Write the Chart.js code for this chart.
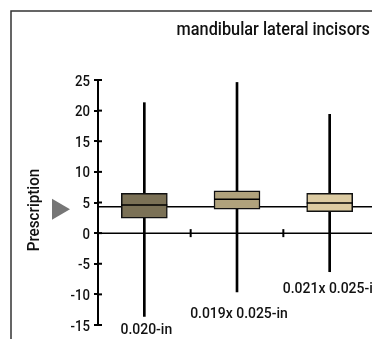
<!DOCTYPE html>
<html><head><meta charset="utf-8">
<script src="https://cdn.jsdelivr.net/npm/chart.js"></script>
<style>html,body{margin:0;padding:0;background:#fff;overflow:hidden;width:372px;height:339px}
#wrap{position:absolute;left:0;top:0;width:376px;height:339px}</style>
</head><body><div id="wrap"><canvas id="c" width="376" height="339"></canvas></div>
<script>
const categories = ['0.020-in', '0.019x 0.025-in', '0.021x 0.025-in'];
const whiskerMin = [-13.6, -9.6, -6.3];
const q1 = [2.45, 3.9, 3.5];
const median = [4.6, 5.55, 4.9];
const q3 = [6.5, 6.9, 6.5];
const whiskerMax = [21.3, 24.6, 19.4];
const prescription = 4.3;
const yTicks = [-15, -10, -5, 0, 5, 10, 15, 20, 25];
const chartTitle = 'mandibular lateral incisors';
const yTitle = 'Prescription';
const boxColors = ['#7b7156', '#b0a27c', '#dccba2'];
const labelAt = [-16.5, -13.9, -9.8];

const FONT = 'Roboto, "Noto Sans", sans-serif';
const TEXT = '#111';

function narrowText(ctx, str, x, y, size, align, sx) {
  ctx.save();
  ctx.font = '500 ' + size + 'px ' + FONT;
  ctx.textAlign = align;
  ctx.textBaseline = 'alphabetic';
  ctx.fillStyle = TEXT;
  ctx.translate(x, y);
  ctx.scale(sx, 1);
  ctx.fillText(str, 0, 0);
  ctx.restore();
}

const decor = {
  id: 'decor',
  beforeDatasetsDraw(chart) {
    const ctx = chart.ctx, x = chart.scales.x, y = chart.scales.y, a = chart.chartArea;
    ctx.save();
    ctx.strokeStyle = '#000';
    ctx.lineWidth = 1.5;
    const py = y.getPixelForValue(prescription);
    ctx.beginPath(); ctx.moveTo(a.left, py); ctx.lineTo(a.right, py); ctx.stroke();
    const zy = y.getPixelForValue(0);
    ctx.beginPath(); ctx.moveTo(a.left, zy); ctx.lineTo(a.right, zy); ctx.stroke();
    ctx.lineWidth = 2;
    for (let i = 0; i < categories.length - 1; i++) {
      const bx = (x.getPixelForValue(i) + x.getPixelForValue(i + 1)) / 2;
      ctx.beginPath(); ctx.moveTo(bx, zy - 4); ctx.lineTo(bx, zy + 4); ctx.stroke();
    }
    ctx.restore();
  },
  afterDatasetsDraw(chart) {
    const ctx = chart.ctx, x = chart.scales.x, y = chart.scales.y, a = chart.chartArea;
    ctx.save();
    const meta = chart.getDatasetMeta(0);
    ctx.strokeStyle = '#000';
    ctx.lineWidth = 1.5;
    meta.data.forEach((bar, i) => {
      const w = bar.width;
      const my = y.getPixelForValue(median[i]);
      ctx.beginPath(); ctx.moveTo(bar.x - w / 2, my); ctx.lineTo(bar.x + w / 2, my); ctx.stroke();
    });
    ctx.lineWidth = 2;
    y.ticks.forEach(t => {
      const ty = y.getPixelForValue(t.value);
      ctx.beginPath(); ctx.moveTo(a.left, ty); ctx.lineTo(a.left + 4, ty); ctx.stroke();
      narrowText(ctx, String(t.value), a.left - 8, ty + 5.5, 15.5, 'right', 0.85);
    });
    categories.forEach((c, i) => {
      narrowText(ctx, c, x.getPixelForValue(i) + 2, y.getPixelForValue(labelAt[i]), 15.5, 'center', 0.9);
    });
    narrowText(ctx, chartTitle, 370, 35, 18.5, 'right', 0.88);
    ctx.save();
    ctx.translate(38.5, 210);
    ctx.rotate(-Math.PI / 2);
    narrowText(ctx, yTitle, 0, 0, 16, 'center', 0.95);
    ctx.restore();
    const py = y.getPixelForValue(prescription) + 2.5;
    ctx.fillStyle = '#767676';
    ctx.beginPath();
    ctx.moveTo(52, py - 10.5); ctx.lineTo(70, py); ctx.lineTo(52, py + 10.5); ctx.closePath(); ctx.fill();
    ctx.strokeStyle = '#333';
    ctx.lineWidth = 1.5;
    ctx.beginPath(); ctx.moveTo(11, 339); ctx.lineTo(11, 11); ctx.lineTo(376, 11); ctx.stroke();
    ctx.restore();
  }
};

new Chart(document.getElementById('c'), {
  type: 'bar',
  data: {
    labels: categories,
    datasets: [
      {
        data: q1.map((v, i) => [v, q3[i]]),
        backgroundColor: boxColors,
        borderColor: '#111',
        borderWidth: 1.5,
        borderSkipped: false,
        barThickness: 46,
        grouped: false
      },
      {
        data: whiskerMin.map((v, i) => [v, whiskerMax[i]]),
        backgroundColor: '#000',
        borderWidth: 0,
        barThickness: 2,
        grouped: false
      }
    ]
  },
  options: {
    responsive: false,
    animation: false,
    devicePixelRatio: 1,
    layout: { padding: { top: 80, bottom: 14, left: 68, right: 0 } },
    plugins: { legend: { display: false }, tooltip: { enabled: false }, title: { display: false } },
    scales: {
      x: { type: 'category', display: false, offset: true },
      y: {
        min: -15, max: 25,
        afterBuildTicks: s => { s.ticks = yTicks.map(v => ({ value: v })); },
        afterFit: s => { s.width = 30; },
        ticks: { display: false },
        grid: { drawOnChartArea: false, drawTicks: true, tickLength: 4, color: '#000', lineWidth: 2 },
        border: { color: '#000', width: 2 }
      }
    }
  },
  plugins: [decor]
});
</script></body></html>
